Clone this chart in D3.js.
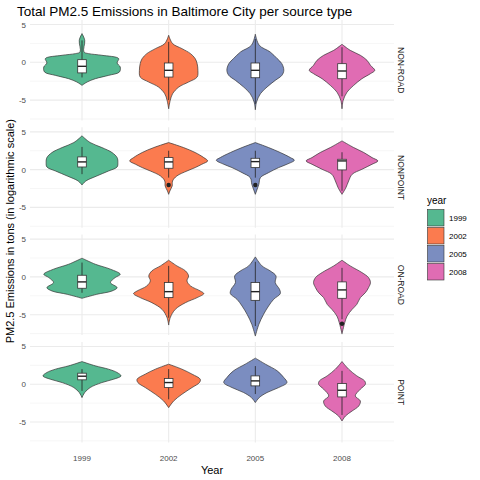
<!DOCTYPE html>
<html>
<head>
<meta charset="utf-8">
<script src="https://cdn.jsdelivr.net/npm/d3@7"></script>
<style>
  body { margin: 0; background: #fff; }
  text { font-family: "Liberation Sans", Arial, sans-serif; }
</style>
</head>
<body>
<svg id="chart" width="480" height="480"></svg>
<script>
var years = ['1999', '2002', '2005', '2008'];
var sourceTypes = ['NON-ROAD', 'NONPOINT', 'ON-ROAD', 'POINT'];
var colors = ['#55b890', '#fb7b4f', '#7b8dc0', '#e06cb3'];
var yTicks = [5, 0, -5];

// violin outlines: [log emission, relative density]
var nonRoad = [
    [[3.8,0],[2.92,.07],[1.37,.05],[1.15,.17],[.93,.51],[.49,.94],[-.09,.9],[-.62,.98],[-1.28,.96],[-1.73,.68],[-2.17,.34],[-2.61,.13],[-3.05,0]],
    [[3.58,0],[2.48,.1],[1.81,.34],[1.15,.56],[.49,.68],[-.18,.73],[-1.06,.75],[-1.95,.73],[-2.61,.51],[-3.27,.26],[-4.16,.1],[-5.04,.04],[-6.15,0]],
    [[3.72,0],[2.26,.1],[1.37,.38],[.49,.56],[-.18,.68],[-1.06,.73],[-1.73,.68],[-2.39,.51],[-3.27,.3],[-4.16,.13],[-5.27,.03],[-6.28,0]],
    [[2.39,0],[1.59,.21],[.93,.47],[.27,.64],[-.4,.73],[-1.06,.84],[-1.5,.73],[-2.17,.51],[-3.05,.3],[-3.94,.13],[-5.04,.03],[-6.15,0]]
];
var nonPoint = [
    [[4.47,0],[3.58,.21],[2.92,.51],[2.26,.77],[1.59,.9],[.93,.92],[.35,.9],[-.18,.68],[-.84,.38],[-1.5,.1],[-2.04,0]],
    [[3.58,0],[2.92,.38],[2.26,.68],[1.59,.9],[1.15,1],[.71,.85],[.27,.68],[-.18,.47],[-.84,.21],[-1.5,.1],[-2.17,.09],[-2.83,.03],[-3.27,0]],
    [[3.58,0],[2.92,.34],[2.26,.64],[1.59,.9],[1.24,1],[.71,.81],[.27,.6],[-.4,.34],[-1.06,.13],[-1.95,.09],[-2.83,.03],[-3.27,0]],
    [[3.8,0],[2.92,.3],[2.26,.56],[1.59,.77],[1.15,.92],[.71,.77],[.04,.51],[-.62,.26],[-1.5,.17],[-2.39,.1],[-3.27,0]]
];
var onRoad = [
    [[2.48,0],[1.68,.34],[1.02,.73],[.35,.98],[-.09,.85],[-.75,.73],[-1.42,.9],[-1.86,.77],[-2.3,.38],[-2.83,0]],
    [[2.21,0],[1.46,.21],[.8,.43],[.13,.51],[-.53,.47],[-1.19,.56],[-1.86,.81],[-2.21,.9],[-2.74,.73],[-3.41,.43],[-4.29,.17],[-5.4,.04],[-6.37,0]],
    [[2.65,0],[1.46,.17],[.8,.38],[.13,.53],[-.75,.51],[-1.64,.62],[-2.21,.64],[-2.96,.47],[-3.85,.34],[-4.96,.21],[-6.28,.09],[-7.83,0]],
    [[2.21,0],[1.46,.21],[.58,.51],[-.09,.68],[-.75,.73],[-1.42,.68],[-2.08,.6],[-2.74,.47],[-3.63,.38],[-4.29,.26],[-5.18,.13],[-6.06,.07],[-7.52,0]]
];
var point = [
    [[3.0,0],[2.43,.34],[1.99,.68],[1.55,.9],[1.1,1],[.66,.81],[.22,.51],[-.44,.21],[-1.1,.07],[-1.77,0]],
    [[2.65,0],[1.99,.34],[1.33,.6],[.66,.81],[.22,.79],[-.44,.6],[-1.33,.34],[-2.21,.13],[-3.1,0]],
    [[3.45,0],[2.65,.26],[1.77,.56],[.88,.73],[.22,.81],[-.44,.6],[-1.1,.3],[-1.77,.1],[-2.43,0]],
    [[3.0,0],[1.99,.17],[1.1,.38],[.44,.58],[0,.6],[-.66,.47],[-1.55,.34],[-2.21,.47],[-2.88,.43],[-3.54,.26],[-4.2,.09],[-4.87,0]]
];
var violins = [nonRoad, nonPoint, onRoad, point];

// box stats: [lower whisker, q1, median, q3, upper whisker]
var boxNonRoad = [[-2.0,-1.4,-0.53,0.35,2.9],[-5.0,-1.95,-1.06,-0.09,2.7],[-5.5,-2.04,-1.06,-0.09,3.1],[-4.5,-2.17,-1.15,-0.18,2.0]];
var boxNonPoint = [[-0.6,0.35,1.02,1.68,3.0],[-1.06,0.18,1.02,1.59,2.5],[-1.06,0.27,1.06,1.5,2.5],[-2.8,-0.04,1.15,1.37,2.3]];
var boxOnRoad = [[-2.1,-1.5,-0.66,0.22,1.9],[-5.4,-2.74,-1.95,-0.75,1.46],[-6.5,-3.1,-1.95,-0.75,2.0],[-5.6,-2.83,-1.72,-0.66,1.2]];
var boxPoint = [[-0.88,0.58,1.06,1.46,2.0],[-2.0,-0.44,0.22,0.75,2.0],[-1.3,-0.22,0.44,1.1,2.4],[-4.07,-1.68,-0.8,0.09,1.77]];
var boxes = [boxNonRoad, boxNonPoint, boxOnRoad, boxPoint];

// outliers: [type index, year index, value]
var outliers = [[1, 1, -2.04], [1, 2, -2.04], [2, 3, -6.2]];

var svg = d3.select('#chart');
var left = 30, right = 394, top0 = 20, panelH = 100.5, gap = 6.8;

var x = d3.scaleBand().domain(years).range([left, right]).paddingOuter(0.1).paddingInner(0);
var x = d3.scalePoint().domain(years).range([left, right]).padding(0.6);
var step = x.step();
var w = d3.scaleLinear().domain([0, 1]).range([0, step * 0.45]);

sourceTypes.forEach(function(type, ti) {
    var top = top0 + ti * (panelH + gap);
    var y = d3.scaleLinear().domain([-7.7, 5.6]).range([top + panelH, top]);
    var g = svg.append('g');

    // grid
    [-7.5, -2.5, 2.5].forEach(function(v) {
        g.append('line').attr('x1', left).attr('x2', right).attr('y1', y(v)).attr('y2', y(v))
            .attr('stroke', '#f0f0f0').attr('stroke-width', 0.6);
    });
    yTicks.forEach(function(v) {
        g.append('line').attr('x1', left).attr('x2', right).attr('y1', y(v)).attr('y2', y(v))
            .attr('stroke', '#ebebeb').attr('stroke-width', 1.1);
        g.append('text').attr('x', 26).attr('y', y(v) + 3).attr('text-anchor', 'end')
            .attr('font-size', 8).attr('fill', '#4d4d4d').text(v);
    });
    years.forEach(function(yr) {
        g.append('line').attr('x1', x(yr)).attr('x2', x(yr)).attr('y1', top).attr('y2', top + panelH)
            .attr('stroke', '#ebebeb').attr('stroke-width', 1.1);
    });

    years.forEach(function(yr, yi) {
        var cx = x(yr);
        var area = d3.area()
            .y(function(d) { return y(d[0]); })
            .x0(function(d) { return cx - w(d[1]); })
            .x1(function(d) { return cx + w(d[1]); })
            .curve(d3.curveCatmullRom);
        g.append('path').attr('d', area(violins[ti][yi]))
            .attr('fill', colors[yi]).attr('stroke', '#333').attr('stroke-width', 0.7);

        var b = boxes[ti][yi];
        g.append('line').attr('x1', cx).attr('x2', cx).attr('y1', y(b[0])).attr('y2', y(b[4]))
            .attr('stroke', '#222').attr('stroke-width', 0.8);
        g.append('rect').attr('x', cx - 4.3).attr('width', 8.6)
            .attr('y', y(b[3])).attr('height', y(b[1]) - y(b[3]))
            .attr('fill', '#fff').attr('stroke', '#333').attr('stroke-width', 0.8);
        g.append('line').attr('x1', cx - 4.3).attr('x2', cx + 4.3).attr('y1', y(b[2])).attr('y2', y(b[2]))
            .attr('stroke', '#222').attr('stroke-width', 1.4);
    });

    outliers.filter(function(o) { return o[0] === ti; }).forEach(function(o) {
        g.append('circle').attr('cx', x(years[o[1]])).attr('cy', y(o[2])).attr('r', 2.2).attr('fill', '#222');
    });

    var my = top + panelH / 2;
    g.append('text').attr('transform', 'translate(398,' + my + ') rotate(90)')
        .attr('text-anchor', 'middle').attr('font-size', 8.5).attr('fill', '#1a1a1a').text(type);
});

// x tick labels
var bottom = top0 + 4 * panelH + 3 * gap;
years.forEach(function(yr) {
    svg.append('text').attr('x', x(yr)).attr('y', bottom + 19).attr('text-anchor', 'middle')
        .attr('font-size', 8).attr('fill', '#4d4d4d').text(yr);
});

svg.append('text').attr('x', (left + right) / 2).attr('y', 474).attr('text-anchor', 'middle')
    .attr('font-size', 11).attr('fill', '#000').text('Year');
svg.append('text').attr('transform', 'translate(14,' + (top0 + (bottom - top0) / 2) + ') rotate(-90)')
    .attr('text-anchor', 'middle').attr('font-size', 11).attr('fill', '#000')
    .text('PM2.5 Emissions in tons (in logarithmic scale)');
svg.append('text').attr('x', 17).attr('y', 16).attr('font-size', 13.5).attr('fill', '#000')
    .text('Total PM2.5 Emissions in Baltimore City per source type');

// legend
var lg = svg.append('g');
lg.append('text').attr('x', 427).attr('y', 204).attr('font-size', 10).attr('fill', '#000').text('year');
years.forEach(function(yr, i) {
    lg.append('rect').attr('x', 427.5).attr('y', 209.5 + i * 18).attr('width', 16.5).attr('height', 16.5)
        .attr('fill', colors[i]).attr('stroke', '#333').attr('stroke-width', 0.6);
    lg.append('text').attr('x', 449).attr('y', 221 + i * 18).attr('font-size', 8).attr('fill', '#000').text(yr);
});
</script>
</body>
</html>
